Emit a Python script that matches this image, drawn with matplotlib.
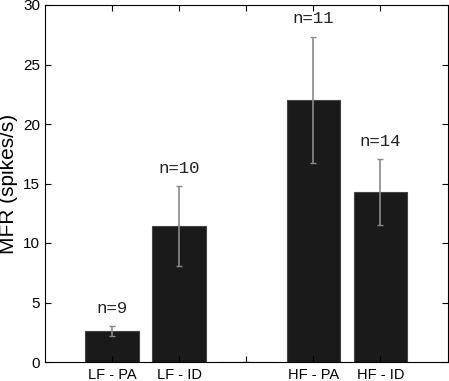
import numpy as np
import matplotlib.pyplot as plt

labels = ["LF - PA", "LF - ID", "", "HF - PA", "HF - ID"]
mfr = [2.6, 11.4, 0.0, 22.05, 14.3]
err = [0.44, 3.35, 0.0, 5.3, 2.75]
counts = ["n=9", "n=10", "", "n=11", "n=14"]

plt.rcParams['font.family'] = ['Liberation Sans', 'DejaVu Sans']

fig = plt.figure(figsize=(4.49, 3.81), dpi=100)
ax = fig.add_axes([45/449, 19/381, 402.5/449, 357/381])

x = np.arange(1, len(mfr) + 1)
ax.bar(x, mfr, width=0.8, color="#1a1a1a", edgecolor="#444444", linewidth=0.8)
ax.errorbar(x, mfr, yerr=err, fmt="none", ecolor="#8a8a8a", elinewidth=1.2,
            capsize=2.5, capthick=1)

for xi, m, e, c in zip(x, mfr, err, counts):
    if c:
        ax.text(xi, m + e + 0.85, c, ha="center", va="bottom",
                family="Liberation Mono", fontsize=12.5, color="#222222")

ax.set_xlim(0, 6)
ax.set_ylim(0, 30)
ax.set_xticks(x)
ax.set_xticklabels(labels, fontsize=10.5)
ax.set_yticks(np.arange(0, 31, 5))
ax.tick_params(axis="y", labelsize=11, direction="in", right=True, length=4)
ax.tick_params(axis="x", direction="in", top=True, length=4, pad=4)
ax.set_ylabel("MFR (spikes/s)", fontsize=15, labelpad=4)

plt.savefig("out.png", dpi=100)
